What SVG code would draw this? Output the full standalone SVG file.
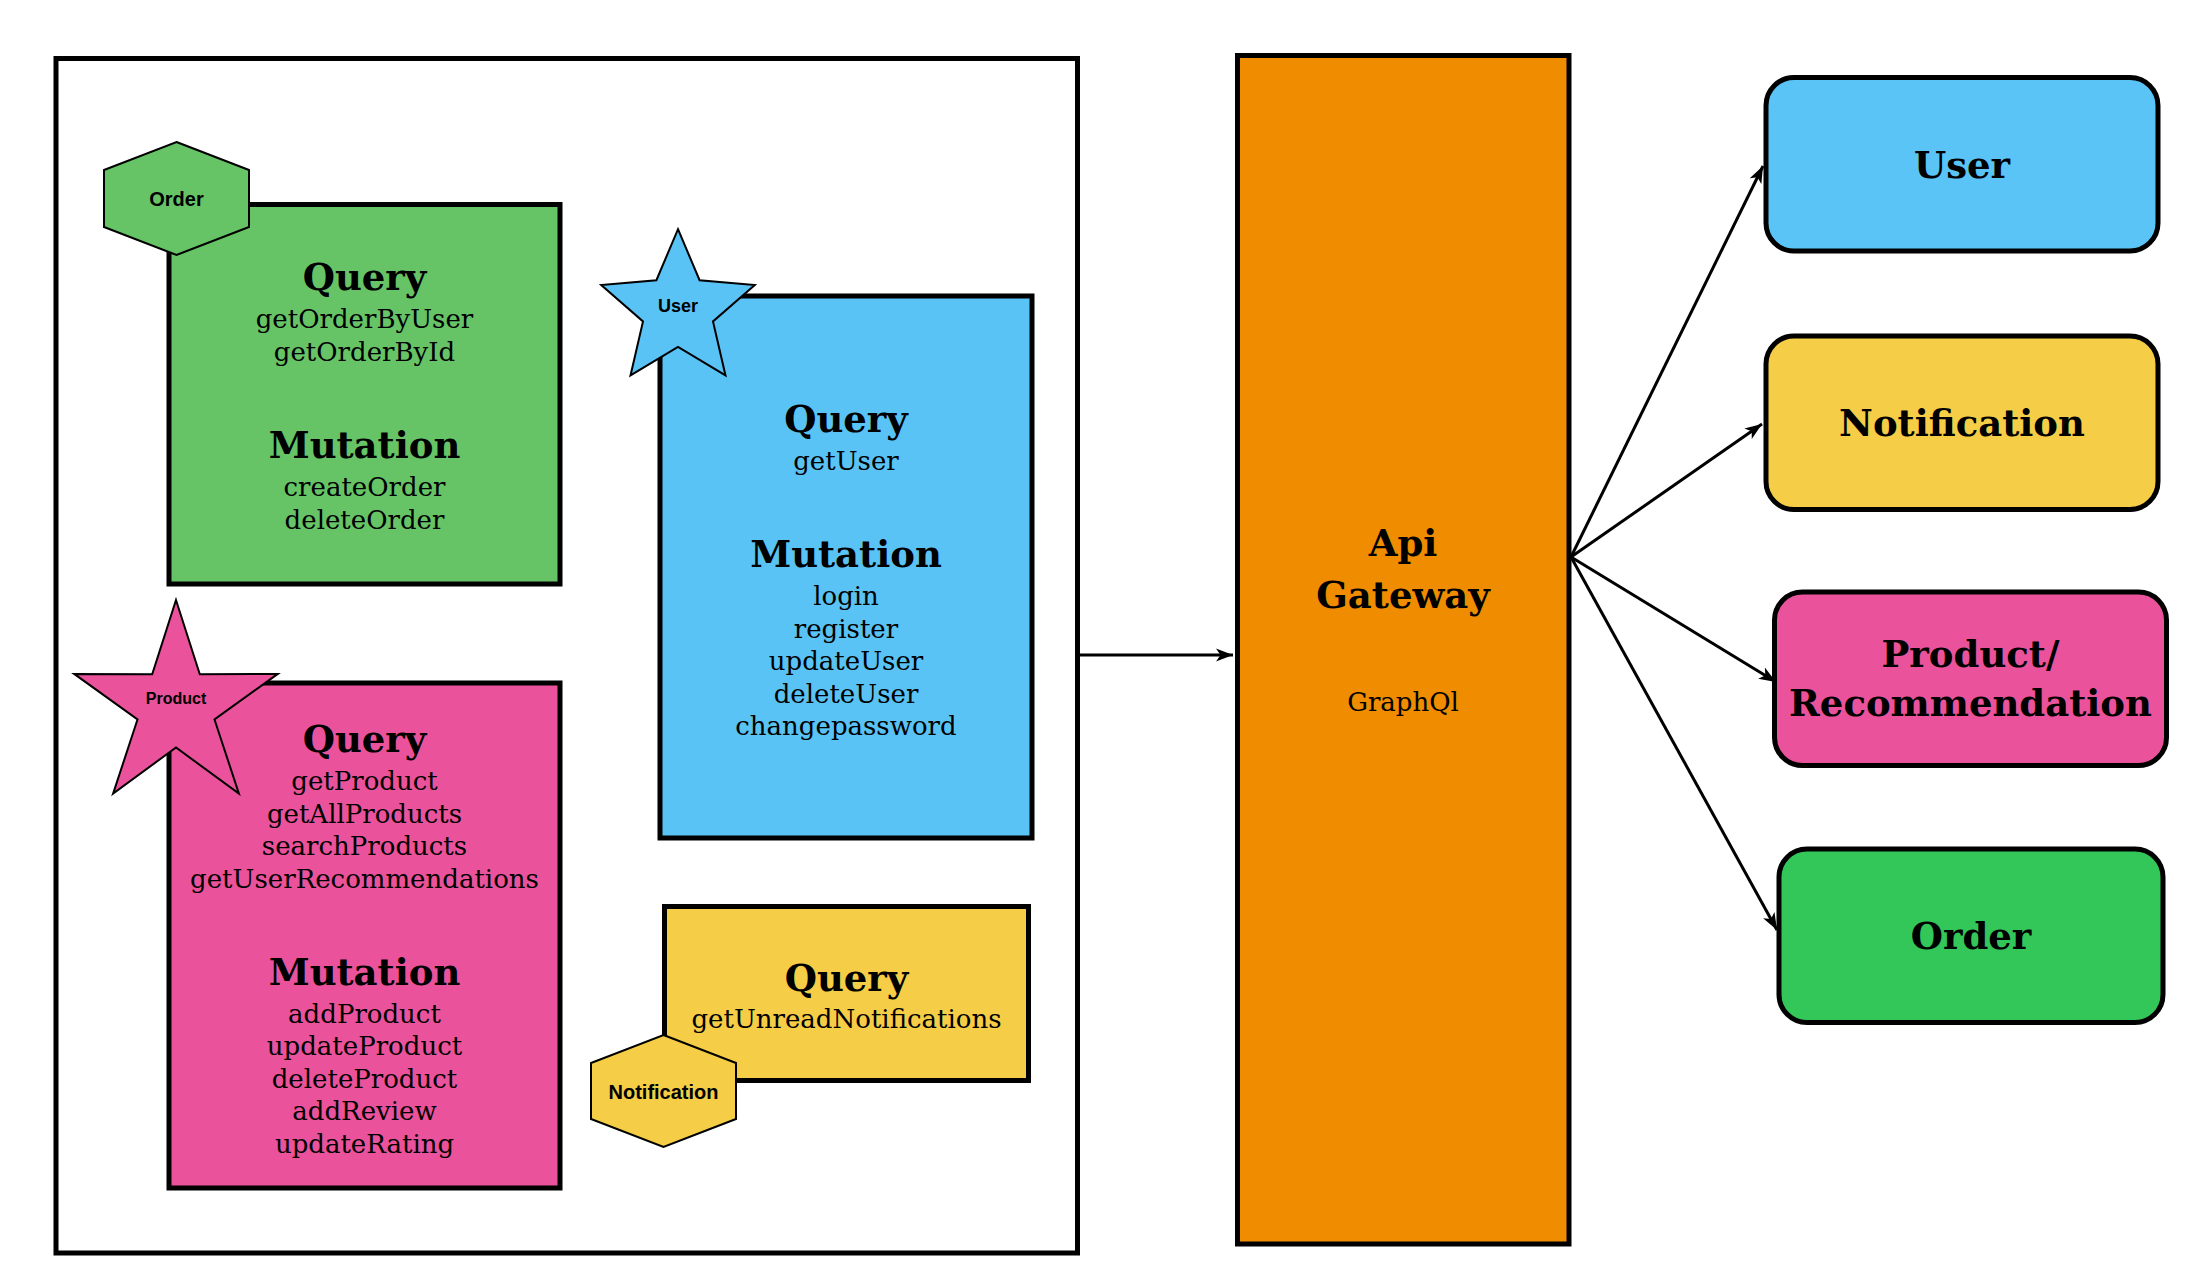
<svg xmlns="http://www.w3.org/2000/svg" width="2202" height="1288" viewBox="0 0 2202 1288">
  <style>
    .box { stroke: #000; stroke-width: 5; }
    .tag { stroke: #000; stroke-width: 2; stroke-linejoin: miter; }
    .h { font-family: "DejaVu Serif", "Liberation Serif", serif; font-weight: bold; font-size: 37px; fill: #000; text-anchor: middle; }
    .t { font-family: "DejaVu Serif", "Liberation Serif", serif; font-size: 26px; fill: #000; text-anchor: middle; }
    .s { font-family: "Liberation Sans", Arial, sans-serif; font-weight: bold; fill: #000; text-anchor: middle; }
    .edge { stroke: #000; stroke-width: 3; fill: none; }
  </style>
  <defs>
    <marker id="arrow" markerUnits="userSpaceOnUse" markerWidth="18" markerHeight="14" refX="17" refY="7" orient="auto">
      <path d="M0,0.5 L17,7 L0,13.5 L4.5,7 Z" fill="#000"/>
    </marker>
  </defs>
  <rect width="2202" height="1288" fill="#fff"/>

  <g id="frame">
    <rect class="box" x="56" y="58.5" width="1021.5" height="1194.5" fill="#fff"/>
  </g>

  <g id="order-service">
    <rect class="box" x="169" y="204.5" width="391" height="379.5" fill="#66c466"/>
    <text class="h" x="364.5" y="290">Query</text>
    <text class="t" x="364.5" y="328">getOrderByUser</text>
    <text class="t" x="364.5" y="360.5">getOrderById</text>
    <text class="h" x="364.5" y="458">Mutation</text>
    <text class="t" x="364.5" y="496">createOrder</text>
    <text class="t" x="364.5" y="528.5">deleteOrder</text>
  </g>
  <g id="order-tag">
    <polygon class="tag" points="176.5,142 249,170 249,227 176.5,255 104,227 104,170" fill="#66c466"/>
    <text class="s" x="176.5" y="206" font-size="20">Order</text>
  </g>

  <g id="user-service">
    <rect class="box" x="660" y="296" width="372" height="542" fill="#5ac3f6"/>
    <text class="h" x="846" y="432">Query</text>
    <text class="t" x="846" y="470">getUser</text>
    <text class="h" x="846" y="567">Mutation</text>
    <text class="t" x="846" y="605">login</text>
    <text class="t" x="846" y="637.5">register</text>
    <text class="t" x="846" y="670">updateUser</text>
    <text class="t" x="846" y="702.5">deleteUser</text>
    <text class="t" x="846" y="735">changepassword</text>
  </g>
  <g id="user-tag">
    <polygon class="tag" points="678,229.2 699.6,280.2 754.8,285 713,321.4 725.5,375.4 678,346.8 630.5,375.4 643,321.4 601.2,285 656.4,280.2" fill="#5ac3f6"/>
    <text class="s" x="678" y="311.5" font-size="18">User</text>
  </g>

  <g id="product-service">
    <rect class="box" x="169" y="683" width="391" height="505" fill="#ea539b"/>
    <text class="h" x="364.5" y="752">Query</text>
    <text class="t" x="364.5" y="790">getProduct</text>
    <text class="t" x="364.5" y="822.5">getAllProducts</text>
    <text class="t" x="364.5" y="855">searchProducts</text>
    <text class="t" x="364.5" y="887.5">getUserRecommendations</text>
    <text class="h" x="364.5" y="984.5">Mutation</text>
    <text class="t" x="364.5" y="1022.5">addProduct</text>
    <text class="t" x="364.5" y="1055">updateProduct</text>
    <text class="t" x="364.5" y="1087.5">deleteProduct</text>
    <text class="t" x="364.5" y="1120">addReview</text>
    <text class="t" x="364.5" y="1152.5">updateRating</text>
  </g>
  <g id="product-tag">
    <polygon class="tag" points="176,600 199.8,674.2 277.8,673.9 214.5,719.5 238.9,793.6 176,747.5 113.1,793.6 137.5,719.5 74.2,673.9 152.2,674.2" fill="#ea539b"/>
    <text class="s" x="176" y="704" font-size="16">Product</text>
  </g>

  <g id="notification-service">
    <rect class="box" x="664.5" y="906.5" width="364" height="174" fill="#f5cd46"/>
    <text class="h" x="846.5" y="991">Query</text>
    <text class="t" x="846.5" y="1028">getUnreadNotifications</text>
  </g>
  <g id="notification-tag">
    <polygon class="tag" points="663.5,1035 736,1063 736,1119 663.5,1147 591,1119 591,1063" fill="#f5cd46"/>
    <text class="s" x="663.5" y="1099" font-size="20">Notification</text>
  </g>

  <g id="api-gateway">
    <rect class="box" x="1237.5" y="55.5" width="331.5" height="1188.5" fill="#ef8c00"/>
    <text class="h" x="1403" y="556">Api</text>
    <text class="h" x="1403" y="608">Gateway</text>
    <text class="t" x="1403" y="711">GraphQl</text>
  </g>

  <g id="user">
    <rect class="box" x="1766" y="77.5" width="392" height="173.5" rx="28" fill="#5bc4f6"/>
    <text class="h" x="1962" y="177.5">User</text>
  </g>
  <g id="notification">
    <rect class="box" x="1766" y="336" width="392" height="173.5" rx="28" fill="#f5cd46"/>
    <text class="h" x="1962" y="436">Notification</text>
  </g>
  <g id="product-recommendation">
    <rect class="box" x="1774.5" y="592" width="392" height="173.5" rx="28" fill="#ea539b"/>
    <text class="h" x="1970.5" y="667">Product/</text>
    <text class="h" x="1970.5" y="716">Recommendation</text>
  </g>
  <g id="order">
    <rect class="box" x="1779" y="849" width="384" height="173.5" rx="28" fill="#33c659"/>
    <text class="h" x="1971" y="949">Order</text>
  </g>

  <g id="connectors">
    <line class="edge" x1="1080" y1="655" x2="1233" y2="655" marker-end="url(#arrow)"/>
    <line class="edge" x1="1571" y1="557" x2="1763" y2="166" marker-end="url(#arrow)"/>
    <line class="edge" x1="1571" y1="557" x2="1762" y2="424" marker-end="url(#arrow)"/>
    <line class="edge" x1="1571" y1="557" x2="1776" y2="682" marker-end="url(#arrow)"/>
    <line class="edge" x1="1571" y1="557" x2="1777" y2="930" marker-end="url(#arrow)"/>
  </g>
</svg>
